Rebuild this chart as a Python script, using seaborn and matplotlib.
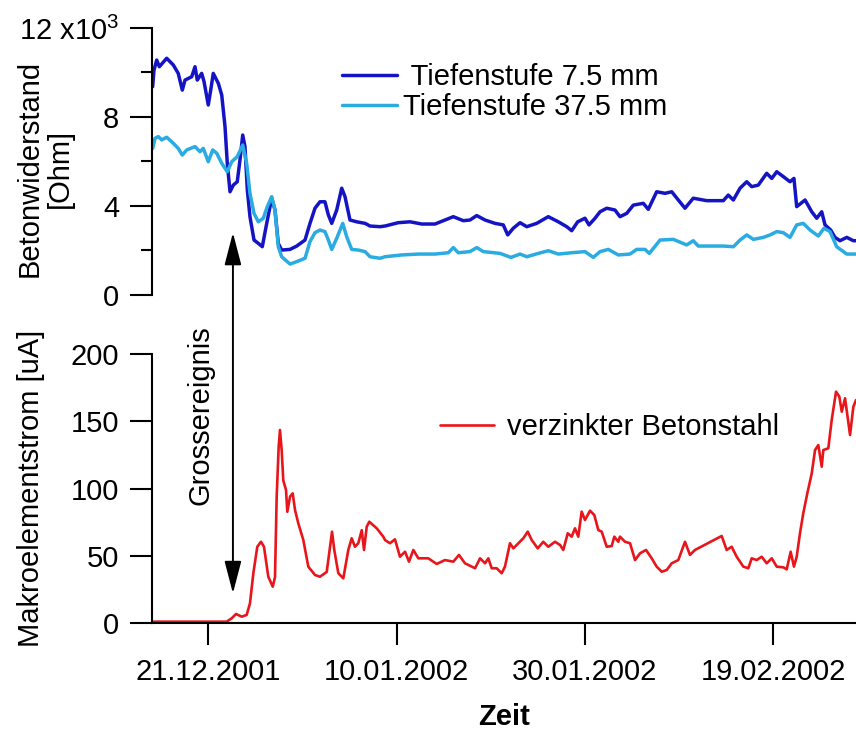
import numpy as np
import pandas as pd
import matplotlib
matplotlib.use("Agg")
import matplotlib.pyplot as plt
import matplotlib.dates as mdates
import seaborn as sns

# ---------------- data ----------------
start_date = "2001-12-15"
end_date = "2002-02-27 19:30"
event_day = 8.6          # Grossereignis, days after start
event_top_value = 2.8    # arrow tip in upper panel (x10^3 Ohm)
event_bot_value = 22.0   # arrow tip in lower panel (uA)

# Tiefenstufe 7.5 mm  (days after start, resistance x10^3 Ohm)
d75_days = [0.07, 0.21, 0.50, 0.78, 1.56, 2.26, 2.79, 3.22, 3.51, 4.22, 4.57, 4.81, 5.28, 5.53,
            5.98, 6.24, 6.51, 7.05, 7.41, 7.76, 8.00, 8.29, 8.64, 9.06, 9.35, 9.64, 9.88, 10.13,
            10.41, 10.84, 11.30, 11.72, 12.19, 12.72, 13.07, 13.42, 13.78, 14.67, 15.38, 16.26,
            16.79, 17.32, 17.85, 18.38, 18.74, 19.10, 19.63, 20.16, 20.51, 21.04, 21.75, 22.64,
            23.17, 24.23, 24.76, 26.17, 27.42, 28.66, 30.07, 30.96, 32.02, 33.08, 33.79, 34.51,
            35.39, 36.45, 37.33, 37.80, 38.39, 39.11, 39.82, 40.88, 42.11, 43.18, 44.07, 44.60,
            45.24, 46.01, 46.44, 47.08, 47.61, 48.32, 49.20, 49.73, 50.45, 51.15, 52.21, 52.74,
            53.63, 54.52, 55.23, 55.93, 56.64, 57.52, 58.95, 60.71, 61.24, 61.78, 62.49, 63.20,
            63.73, 64.43, 65.32, 65.86, 66.39, 67.09, 67.80, 68.22, 68.51, 69.40, 70.11, 70.64,
            71.17, 71.52, 72.12, 72.58, 73.11, 73.83, 74.53, 74.82]
d75_vals = [9.36, 10.10, 10.56, 10.26, 10.64, 10.34, 9.96, 9.21, 9.66, 9.81, 10.26, 9.66, 9.96, 9.59,
            8.54, 9.21, 9.96, 9.51, 8.99, 7.56, 5.92, 4.64, 4.94, 5.09, 6.07, 7.19, 6.67, 4.72,
            3.52, 2.47, 2.32, 2.17, 3.22, 4.35, 3.82, 2.32, 2.02, 2.05, 2.20, 2.47,
            3.22, 3.90, 4.19, 4.19, 3.60, 3.22, 3.82, 4.80, 4.42, 3.37, 3.29, 3.22,
            3.10, 3.07, 3.10, 3.25, 3.29, 3.19, 3.19, 3.34, 3.52, 3.34, 3.37, 3.57,
            3.37, 3.22, 3.15, 2.70, 3.00, 3.25, 3.07, 3.22, 3.52, 3.29, 3.07, 2.89,
            3.29, 3.45, 3.15, 3.45, 3.74, 3.90, 3.82, 3.52, 3.67, 4.04, 4.12, 3.85,
            4.64, 4.57, 4.64, 4.27, 3.90, 4.35, 4.24, 4.24, 4.49, 4.27, 4.80, 5.09,
            4.87, 4.94, 5.47, 5.24, 5.54, 5.32, 5.09, 5.24, 3.97, 4.27, 3.74, 3.45,
            3.74, 3.15, 2.92, 2.59, 2.44, 2.59, 2.44, 2.44]

# Tiefenstufe 37.5 mm
d375_days = [0.07, 0.32, 0.67, 1.03, 1.56, 2.26, 2.79, 3.22, 3.69, 4.57, 5.10, 5.45, 5.98, 6.45,
             6.88, 7.41, 8.00, 8.47, 9.06, 9.64, 10.06, 10.41, 10.84, 11.30, 11.83, 12.25, 12.72,
             13.07, 13.42, 13.78, 14.67, 15.38, 16.26, 16.79, 17.32, 17.85, 18.38, 18.74, 19.10,
             19.63, 20.27, 20.69, 21.22, 21.92, 22.64, 23.17, 24.23, 24.76, 26.54, 28.30, 30.07,
             31.49, 32.02, 32.55, 33.79, 34.51, 35.21, 36.98, 38.15, 39.11, 39.82, 41.05, 42.11,
             43.18, 44.60, 46.01, 46.90, 47.61, 48.49, 49.55, 50.80, 51.51, 52.39, 52.85, 53.99,
             55.40, 56.82, 57.52, 58.05, 60.71, 61.78, 62.49, 63.20, 63.91, 64.97, 65.68, 66.39,
             67.09, 67.80, 68.51, 69.21, 69.93, 70.81, 71.41, 72.05, 72.76, 73.83, 74.82]
d375_vals = [6.59, 7.04, 7.12, 6.97, 7.09, 6.82, 6.59, 6.29, 6.52, 6.67, 6.44, 6.59, 5.99, 6.52,
             6.37, 5.92, 5.54, 5.99, 6.22, 6.74, 5.92, 4.57, 3.67, 3.29, 3.45, 3.97, 4.42,
             3.82, 2.17, 1.72, 1.39, 1.50, 1.65, 2.40, 2.80, 2.92, 2.85, 2.47, 2.05,
             2.55, 3.22, 2.62, 2.05, 2.02, 1.95, 1.72, 1.65, 1.72, 1.80, 1.84, 1.84,
             1.90, 2.13, 1.90, 1.95, 2.13, 1.95, 1.87, 1.69, 1.84, 1.72, 1.87, 1.99,
             1.84, 1.90, 1.95, 1.69, 1.95, 2.05, 1.80, 1.84, 2.05, 2.05, 1.87, 2.47,
             2.50, 2.25, 2.44, 2.20, 2.20, 2.17, 2.47, 2.70, 2.50, 2.59, 2.70, 2.85,
             2.80, 2.59, 3.15, 3.22, 2.92, 2.65, 3.00, 2.85, 2.17, 1.84, 1.84]

# verzinkter Betonstahl (days after start, current uA)
zn_days = [0.14, 7.94, 8.47, 8.93, 9.53, 10.06, 10.41, 10.77, 11.19, 11.58, 11.90, 12.36, 12.83,
           13.07, 13.25, 13.46, 13.60, 13.78, 13.95, 14.24, 14.38, 14.67, 14.95, 15.20, 15.55,
           16.08, 16.61, 17.32, 17.85, 18.57, 18.92, 19.13, 19.37, 19.80, 20.33, 20.86, 21.22,
           21.57, 21.92, 22.29, 22.53, 22.82, 23.09, 23.88, 24.58, 24.76, 25.29, 25.82, 26.35,
           26.89, 27.31, 27.77, 28.30, 29.36, 30.25, 31.14, 32.02, 32.62, 33.26, 34.33, 34.86,
           35.39, 35.74, 36.10, 36.63, 37.16, 37.51, 38.04, 38.40, 38.93, 39.46, 39.93, 40.35,
           40.99, 41.58, 42.11, 42.83, 43.36, 43.71, 44.18, 44.60, 44.95, 45.30, 45.66, 46.01,
           46.55, 47.00, 47.43, 47.79, 48.32, 48.85, 49.13, 49.55, 49.73, 50.27, 50.80, 51.33,
           51.86, 52.50, 53.10, 53.63, 54.17, 54.70, 55.23, 55.93, 56.64, 57.17, 57.70, 60.54,
           61.07, 61.60, 62.13, 62.84, 63.37, 63.73, 64.26, 64.79, 65.32, 65.86, 66.39, 67.09,
           67.45, 67.87, 68.22, 68.51, 68.86, 69.21, 69.64, 70.11, 70.46, 70.81, 71.17, 71.34,
           71.87, 72.23, 72.69, 73.04, 73.30, 73.65, 74.18, 74.53, 74.82]
zn_vals = [1.0, 1.0, 3.5, 6.7, 4.7, 6.0, 14.6, 37.0, 56.7, 60.4, 56.7, 34.4, 27.0,
           34.0, 94.0, 131.0, 143.5, 128.6, 106.0, 99.0, 82.7, 94.0, 96.4, 84.0, 74.0,
           61.7, 41.9, 35.7, 34.4, 38.0, 56.7, 67.9, 54.3, 37.0, 33.2, 54.3, 63.0,
           56.7, 59.3, 69.0, 54.3, 71.6, 75.3, 70.4, 64.2, 61.7, 59.3, 62.2, 49.3,
           53.0, 45.6, 54.3, 48.1, 48.1, 43.9, 46.8, 45.6, 50.6, 44.4, 40.7, 48.1,
           44.4, 48.1, 40.7, 40.7, 37.0, 41.9, 59.3, 55.5, 59.3, 63.0, 67.9, 61.7,
           55.5, 60.4, 56.7, 60.4, 58.0, 54.3, 66.7, 64.2, 70.4, 64.2, 82.8, 76.6,
           83.5, 80.3, 69.1, 67.9, 56.7, 57.2, 64.2, 60.4, 64.2, 60.4, 59.3, 46.8,
           51.8, 54.3, 48.1, 41.9, 38.1, 39.4, 44.4, 46.8, 60.4, 50.6, 54.3, 64.7,
           54.3, 56.7, 49.3, 41.9, 40.7, 48.1, 46.8, 49.3, 44.4, 48.1, 41.9, 41.4,
           39.9, 53.0, 41.9, 49.3, 66.7, 81.6, 96.4, 111.3, 128.6, 132.3, 116.2, 128.6,
           129.9, 150.9, 172.0, 168.3, 157.1, 167.1, 139.8, 160.8, 165.8]

x_tick_dates = ["2001-12-21", "2002-01-10", "2002-01-30", "2002-02-19"]
top_ticks = [0, 4, 8, 12]
top_ticklabels = ["0", "4", "8", "12 x10$^3$"]
top_minor = [2, 6, 10]
bot_ticks = [0, 50, 100, 150, 200]

label_75 = " Tiefenstufe 7.5 mm"
label_375 = "Tiefenstufe 37.5 mm"
label_zn = "verzinkter Betonstahl"

c75 = "#1414C4"
c375 = "#2AABE2"
czn = "#E8151B"

# ---------------- build frames ----------------
t0 = pd.Timestamp(start_date)
def to_dates(days):
    return t0 + pd.to_timedelta(np.asarray(days), unit="D")

df75 = pd.DataFrame({"Zeit": to_dates(d75_days), "R": d75_vals})
df375 = pd.DataFrame({"Zeit": to_dates(d375_days), "R": d375_vals})
dfzn = pd.DataFrame({"Zeit": to_dates(zn_days), "I": zn_vals})

# ---------------- style ----------------
sns.set_theme(style="white")
plt.rcParams["font.family"] = ["Liberation Sans", "DejaVu Sans"]
plt.rcParams["mathtext.default"] = "regular"
plt.rcParams["axes.linewidth"] = 1.5
for k in ("text.color", "axes.labelcolor", "xtick.color", "ytick.color", "axes.edgecolor"):
    plt.rcParams[k] = "black"
FS = 21

fig = plt.figure(figsize=(8.56, 7.33), dpi=100)
ax_top = fig.add_axes([152/856, 1-295/733, 704/856, 267/733])
ax_bot = fig.add_axes([152/856, 1-623/733, 704/856, 269/733])

sns.lineplot(data=df75, x="Zeit", y="R", ax=ax_top, color=c75, lw=2.5, label=label_75, estimator=None)
sns.lineplot(data=df375, x="Zeit", y="R", ax=ax_top, color=c375, lw=2.5, label=label_375, estimator=None)
sns.lineplot(data=dfzn, x="Zeit", y="I", ax=ax_bot, color=czn, lw=1.9, label=label_zn, estimator=None)

xlim = (pd.Timestamp(start_date), pd.Timestamp(end_date))
for ax in (ax_top, ax_bot):
    ax.set_xlim(*xlim)
    ax.set_facecolor("white")
    for s in ("top", "right"):
        ax.spines[s].set_visible(False)
    for s in ax.spines.values():
        s.set_color("black")
        s.set_linewidth(1.5)

# top panel
ax_top.spines["bottom"].set_visible(False)
ax_top.set_ylim(0, 12)
ax_top.set_yticks(top_ticks)
ax_top.set_yticklabels(top_ticklabels)
ax_top.set_yticks(top_minor, minor=True)
ax_top.tick_params(axis="y", which="major", direction="out", length=15.5, width=1.5,
                   labelsize=FS, pad=8, left=True, colors="black")
ax_top.tick_params(axis="y", which="minor", direction="out", length=8, width=1.5, left=True)
ax_top.tick_params(axis="x", which="both", bottom=False, labelbottom=False)
ax_top.set_xlabel("")
ax_top.set_ylabel("Betonwiderstand\n[Ohm]", fontsize=FS, linespacing=1.1)
ax_top.yaxis.set_label_coords(-0.111, 0.475)

# bottom panel
ax_bot.set_ylim(0, 200)
ax_bot.set_yticks(bot_ticks)
ax_bot.tick_params(axis="y", direction="out", length=15.5, width=1.5, labelsize=FS, pad=8,
                   left=True, colors="black")
ax_bot.xaxis.set_major_locator(mdates.ticker.FixedLocator(
    [mdates.date2num(pd.Timestamp(d)) for d in x_tick_dates]))
ax_bot.xaxis.set_major_formatter(mdates.DateFormatter("%d.%m.%Y"))
ax_bot.tick_params(axis="x", direction="out", length=15.5, width=1.5, labelsize=FS, pad=10,
                   bottom=True, colors="black")
ax_bot.set_xlabel("Zeit", fontsize=FS, fontweight="bold", labelpad=12)
ax_bot.set_ylabel("Makroelementstrom [uA]", fontsize=FS)
ax_bot.yaxis.set_label_coords(-0.152, 0.5)

# legends
ax_top.legend(loc="center left", bbox_to_anchor=((342-152)/704, (295-92)/267), frameon=False,
              fontsize=FS, handlelength=1.9, handletextpad=0.2, labelspacing=0.05,
              borderpad=0, borderaxespad=0)
ax_bot.legend(loc="center left", bbox_to_anchor=((440-152)/704, (623-427)/269), frameon=False,
              fontsize=FS, handlelength=1.85, handletextpad=0.45, borderpad=0, borderaxespad=0)

# Grossereignis double arrow spanning both panels
xe = mdates.date2num(t0 + pd.Timedelta(days=event_day))
ax_bot.annotate("", xy=(xe, event_bot_value), xycoords=ax_bot.transData,
                xytext=(xe, event_top_value), textcoords=ax_top.transData,
                arrowprops=dict(arrowstyle="<|-|>,head_length=1.0,head_width=0.26",
                                mutation_scale=20, color="black", lw=1.4,
                                shrinkA=0, shrinkB=0),
                annotation_clip=False)
fig.text(200/856, 1-415/733, "Grossereignis", rotation=90, ha="center", va="center",
         fontsize=FS, color="black")

fig.savefig("out.png", dpi=100, facecolor="white")
